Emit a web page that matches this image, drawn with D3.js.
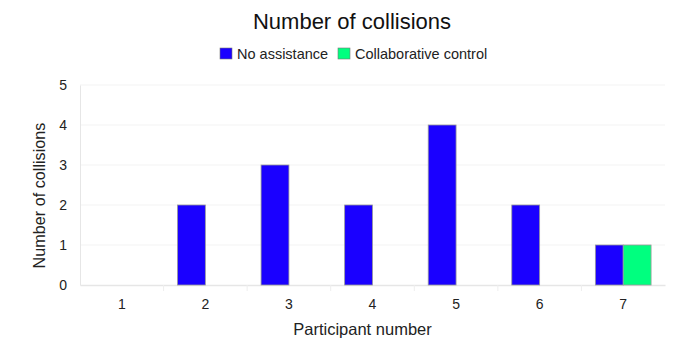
<!DOCTYPE html>
<html>
<head>
<meta charset="utf-8">
<script src="https://cdn.jsdelivr.net/npm/d3@7"></script>
<style>
  html, body { margin: 0; padding: 0; background: #fff; }
  svg { display: block; font-family: "Liberation Sans", Arial, sans-serif; }
</style>
</head>
<body>
<svg id="chart" width="681" height="341"></svg>
<script>
// Collisions per participant, with and without assistance
const participants = ["1", "2", "3", "4", "5", "6", "7"];
const seriesNames = ["No assistance", "Collaborative control"];
const noAssistance = [0, 2, 3, 2, 4, 2, 1];
const collaborative = [0, 0, 0, 0, 0, 0, 1];
const yTicks = [0, 1, 2, 3, 4, 5];
const colors = ["#1a00ff", "#00ff7f"];

const svg = d3.select("#chart");
const margin = { left: 80, right: 16, top: 85, bottom: 56 };
const W = 681, H = 341;
const plotW = W - margin.left - margin.right;
const plotH = H - margin.top - margin.bottom;

const g = svg.append("g").attr("transform", `translate(${margin.left},${margin.top})`);

const x = d3.scaleBand().domain(participants).range([0, plotW]).paddingInner(0).paddingOuter(0);
const xs = d3.scaleBand().domain(seriesNames).range([x.bandwidth() / 6, x.bandwidth() * 5 / 6]);
const y = d3.scaleLinear().domain([0, 5]).range([plotH, 0]);

// horizontal gridlines
g.append("g").selectAll("line").data(yTicks.filter(d => d > 0)).join("line")
  .attr("x1", 0).attr("x2", plotW)
  .attr("y1", d => y(d)).attr("y2", d => y(d))
  .attr("stroke", "#f3f3f3").attr("stroke-width", 1);

// y axis
const yAxis = g.append("g").call(d3.axisLeft(y).tickValues(yTicks).tickSize(0).tickPadding(13).tickFormat(d3.format("d")));
yAxis.select(".domain").attr("stroke", "#e6e6e6");
yAxis.selectAll("text").attr("font-size", 14).attr("fill", "#222");

// x axis with light band separators
const xAxis = g.append("g").attr("transform", `translate(0,${plotH})`)
  .call(d3.axisBottom(x).tickSize(0).tickPadding(14));
xAxis.select(".domain").attr("stroke", "#e6e6e6").attr("stroke-width", 1.5);
xAxis.selectAll("text").attr("font-size", 14).attr("fill", "#222");
g.append("g").selectAll("line").data(participants.slice(1)).join("line")
  .attr("x1", d => x(d)).attr("x2", d => x(d))
  .attr("y1", plotH).attr("y2", plotH + 6)
  .attr("stroke", "#eeeeee");

// bars
const rows = participants.map((p, i) => ({ p, vals: [noAssistance[i], collaborative[i]] }));
const groups = g.append("g").selectAll("g").data(rows).join("g")
  .attr("transform", d => `translate(${x(d.p)},0)`);
groups.selectAll("rect").data(d => d.vals.map((v, k) => ({ v, k })).filter(e => e.v > 0)).join("rect")
  .attr("x", e => xs(seriesNames[e.k]))
  .attr("width", xs.bandwidth())
  .attr("y", e => y(e.v))
  .attr("height", e => y(0) - y(e.v))
  .attr("fill", e => colors[e.k])
  .attr("stroke", "#9a9a9a").attr("stroke-width", 0.8);

// title
svg.append("text").attr("x", 352).attr("y", 29).attr("text-anchor", "middle")
  .attr("font-size", 22).attr("fill", "#111").text("Number of collisions");

// legend
const legendItems = [{ name: seriesNames[0], x: 220 }, { name: seriesNames[1], x: 338 }];
const lg = svg.append("g").selectAll("g").data(legendItems).join("g")
  .attr("transform", d => `translate(${d.x},48)`);
lg.append("rect").attr("width", 12).attr("height", 11)
  .attr("fill", (d, i) => colors[i]).attr("stroke", "#777").attr("stroke-width", 0.6);
lg.append("text").attr("x", 17).attr("y", 11).attr("font-size", 14.5).attr("fill", "#222").text(d => d.name);

// axis titles
svg.append("text").attr("x", 362.5).attr("y", 335).attr("text-anchor", "middle")
  .attr("font-size", 16.5).attr("fill", "#222").text("Participant number");
svg.append("text").attr("transform", "translate(45,195.5) rotate(-90)").attr("text-anchor", "middle")
  .attr("font-size", 16.2).attr("fill", "#222").text("Number of collisions");
</script>
</body>
</html>
